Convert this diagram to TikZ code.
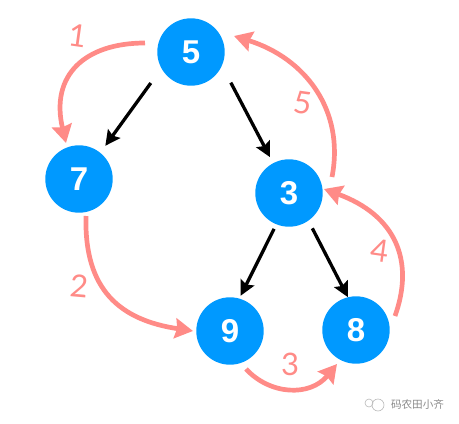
\documentclass[tikz,border=0pt]{standalone}
\usepackage{fontspec}
\setmainfont{Liberation Sans}
\newfontfamily\handfont{Lato}
\newfontfamily\cjkfont{Noto Sans CJK SC}
\usetikzlibrary{arrows.meta,calc}
\definecolor{nodeblue}{HTML}{0099FF}
\definecolor{salmonline}{HTML}{FF8B87}
\definecolor{markgray}{HTML}{8A8A8A}
\tikzset{
  treenode/.style={circle,fill=nodeblue,draw=none,minimum size=67.4pt,inner sep=0pt,text=white,font=\fontsize{33}{33}\bfseries\selectfont},
  treeedge/.style={draw=black,line width=3.3pt,-{Stealth[length=15pt,width=15pt,inset=2.5pt]}},
  visit/.style={draw=salmonline,line width=4.7pt,-{Stealth[length=18pt,width=20pt,inset=2pt]}},
  orderlabel/.style={text=salmonline,inner sep=0pt,font=\fontsize{31}{31}\handfont\selectfont},
  marktext/.style={text=markgray,inner sep=0pt,font=\fontsize{10.6}{11}\cjkfont\selectfont},
  markicon/.style={draw=markgray!60,line width=0.6pt}
}
\begin{document}
\begin{tikzpicture}[x=1pt,y=-1pt]
\useasboundingbox (0,0) rectangle (459,424);
\node[treenode] (n5) at (191,52) {5};
\node[treenode] (n7) at (79,179) {7};
\node[treenode] (n3) at (289,193) {3};
\node[treenode] (n9) at (230,331) {9};
\node[treenode] (n8) at (356,330) {8};

\draw[treeedge,shorten <=18pt,shorten >=8.5pt] (n5.209) -- (n7.51);
\draw[treeedge,shorten <=19pt,shorten >=6.7pt] (n5.336) -- (n3.118);
\draw[treeedge,shorten <=5pt,shorten >=3pt] (n3.248) -- (n9.74);
\draw[treeedge,shorten <=8.5pt,shorten >=0pt] (n3.305) -- (n8.104);

\draw[visit] ($(n5)+(-46,-9)$) .. controls (85,43) and (50,75) .. ($(n7)+(-13,-36)$);
\draw[visit] ($(n7)+(7,37)$) .. controls (84,290) and (120,320) .. ($(n9)+(-37,0)$);
\draw[visit] ($(n9)+(16,38)$) .. controls (270,395) and (310,397) .. ($(n8)+(-19,34)$);
\draw[visit] ($(n8)+(39,-14)$) .. controls (415,260) and (395,215) .. ($(n3)+(35,-4)$);
\draw[visit] ($(n3)+(43,-16)$) .. controls (345,110) and (305,58) .. ($(n5)+(43,-16)$);

\node[orderlabel,rotate=-8] (l1) at (78,36) {1};
\node[orderlabel,rotate=-5] (l2) at (79,286) {2};
\node[orderlabel] (l3) at (290,364) {3};
\node[orderlabel,rotate=-8] (l4) at (380,251) {4};
\node[orderlabel,rotate=-8] (l5) at (303,103) {5};

\draw[markicon] (369,403) circle (4);
\draw[markicon] (378,405) circle (6);
\node[marktext] (wm) at (417.5,404) {码农田小齐};
\end{tikzpicture}
\end{document}
